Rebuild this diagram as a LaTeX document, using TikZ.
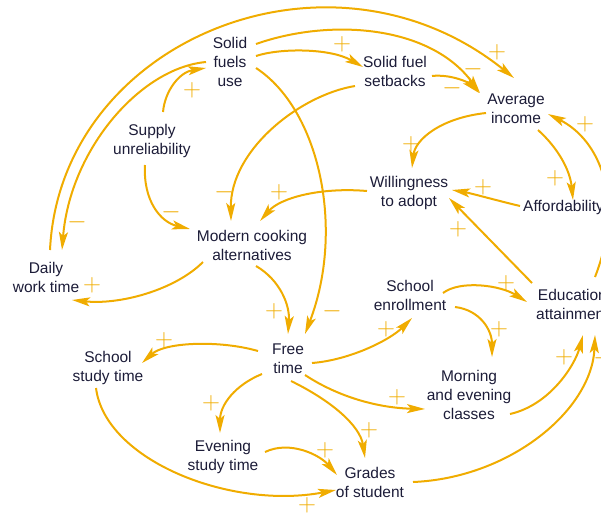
\documentclass[tikz,border=0pt]{standalone}
\usepackage{fontspec}
\setmainfont{Liberation Sans}
\usetikzlibrary{arrows.meta}
\definecolor{cld}{RGB}{240,172,0}
\definecolor{txt}{RGB}{28,28,56}
\tikzset{
  var/.style={align=center, inner sep=0pt, text=txt, yshift=1.5pt, font=\fontsize{15.5}{19}\selectfont},
  link/.style={draw=cld, line width=2pt, -{Stealth[length=18pt,width=9pt,inset=4pt]}},
  sign/.style={inner sep=0pt, text=cld, font=\fontsize{24}{24}\selectfont},
}
\begin{document}
\begin{tikzpicture}[x=1pt,y=-1pt]
\useasboundingbox (0,0) rectangle (601,514);
\clip (0,0) rectangle (601,514);
% variables
\node[var] (sfu) at (230,63.5) {Solid\\fuels\\use};
\node[var] (sfs) at (395,72.5) {Solid fuel\\setbacks};
\node[var] (avg) at (516,110) {Average\\income};
\node[var] (will) at (409,194) {Willingness\\to adopt};
\node[var, anchor=west] (aff) at (523,209) {Affordability};
\node[var] (sup) at (152,142) {Supply\\unreliability};
\node[var] (mca) at (252,247) {Modern cooking\\alternatives};
\node[var] (dwt) at (46,279) {Daily\\work time};
\node[var] (ft) at (288,360) {Free\\time};
\node[var] (sst) at (108,369) {School\\study time};
\node[var] (est) at (223,458) {Evening\\study time};
\node[var] (gos) at (370,484) {Grades\\of student};
\node[var] (se) at (410,297) {School\\enrollment};
\node[var] (mec) at (469,396) {Morning\\and evening\\classes};
\node[var, anchor=west] (edu) at (536,306) {Education\\attainment};
% links
\draw[link] ([shift={(26,-6)}]sfu.center) .. controls (280,48) and (330,48) .. ([shift={(-32,-4)}]sfs.center);
\draw[link] ([shift={(26,-18)}]sfu.center) .. controls (330,18) and (430,25) .. ([shift={(-36,-15.5)}]avg.center);
\draw[link] ([shift={(4,-27.5)}]dwt.center) .. controls (60,40) and (330,-70) .. ([shift={(-2,-30.5)}]avg.center);
\draw[link] ([shift={(-24,0)}]sfu.center) .. controls (140,68) and (70,150) .. ([shift={(16,-27.5)}]dwt.center);
\draw[link] ([shift={(11,-28.5)}]sup.center) .. controls (165,90) and (180,72) .. ([shift={(-24,6)}]sfu.center);
\draw[link] ([shift={(-7,24.5)}]sup.center) .. controls (143,200) and (160,222) .. ([shift={(-62,-16.5)}]mca.center);
\draw[link] ([shift={(-40,15)}]sfs.center) .. controls (300,95) and (230,150) .. ([shift={(-21,-24.5)}]mca.center);
\draw[link] ([shift={(-42,-1.5)}]will.center) .. controls (320,187) and (280,198) .. ([shift={(8,-24.5)}]mca.center);
\draw[link] ([shift={(26,6)}]sfu.center) .. controls (320,110) and (345,230) .. ([shift={(17,-24.5)}]ft.center);
\draw[link] ([shift={(-49,16.5)}]mca.center) .. controls (175,290) and (120,305) .. ([shift={(26,22.5)}]dwt.center);
\draw[link] ([shift={(4,20.5)}]mca.center) .. controls (280,280) and (290,305) .. ([shift={(0,-24.5)}]ft.center);
\draw[link] ([shift={(-30,4.5)}]avg.center) .. controls (440,118) and (415,140) .. ([shift={(3,-24.5)}]will.center);
\draw[link] ([shift={(22,21.5)}]avg.center) .. controls (558,148) and (570,170) .. ([shift={(50,-7.5)}]aff.west);
\draw[link] ([shift={(-3,-1.5)}]aff.west) .. controls (495,200) and (470,193) .. ([shift={(43,-2.5)}]will.center);
\draw[link] ([shift={(-4,-21.5)}]edu.west) -- ([shift={(40,5.5)}]will.center);
\draw[link] ([shift={(59,-27.5)}]edu.west) .. controls (625,200) and (600,140) .. ([shift={(32,5.5)}]avg.center);
\draw[link] ([shift={(-30,-7.5)}]ft.center) .. controls (220,340) and (165,342) .. ([shift={(34,-4.5)}]sst.center);
\draw[link] ([shift={(-26,15.5)}]ft.center) .. controls (235,385) and (220,405) .. ([shift={(-3,-23.5)}]est.center);
\draw[link] ([shift={(24,4.5)}]ft.center) .. controls (350,360) and (390,340) .. ([shift={(2,22.5)}]se.center);
\draw[link] ([shift={(17,16.5)}]ft.center) .. controls (340,398) and (380,408) .. ([shift={(-44,14.5)}]mec.center);
\draw[link] ([shift={(3,22.5)}]ft.center) .. controls (330,400) and (360,425) .. ([shift={(-5,-24.5)}]gos.center);
\draw[link] ([shift={(33,-2.5)}]se.center) .. controls (460,280) and (500,285) .. ([shift={(-9,-2.5)}]edu.west);
\draw[link] ([shift={(45,11.5)}]se.center) .. controls (480,310) and (492,330) .. ([shift={(23,-37.5)}]mec.center);
\draw[link] ([shift={(41,19.5)}]mec.center) .. controls (550,405) and (575,365) .. ([shift={(47,30.5)}]edu.west);
\draw[link] ([shift={(43,-0.5)}]gos.center) .. controls (510,478) and (592,410) .. ([shift={(59,30.5)}]edu.west);
\draw[link] ([shift={(42,-4.5)}]est.center) .. controls (290,440) and (320,455) .. ([shift={(-33,-7.5)}]gos.center);
\draw[link] ([shift={(-12,20.5)}]sst.center) .. controls (105,460) and (230,510) .. ([shift={(-34,7.5)}]gos.center);
\draw[link] ([shift={(37,5)}]sfs.center) .. controls (450,74) and (468,82) .. ([shift={(-37,-15.5)}]avg.center);
% polarity signs
\node[sign] (p1) at (342,44) {$+$};
\node[sign] (p2) at (497,52) {$+$};
\node[sign] (p3) at (473,69) {$-$};
\node[sign] (p4) at (452,88) {$-$};
\node[sign] (p5) at (192,90) {$+$};
\node[sign] (p6) at (171,212) {$-$};
\node[sign] (p7) at (224,192) {$-$};
\node[sign] (p8) at (279,192) {$+$};
\node[sign] (p9) at (77,222) {$-$};
\node[sign] (p10) at (92,285) {$+$};
\node[sign] (p11) at (274,311) {$+$};
\node[sign] (p12) at (332,311) {$-$};
\node[sign] (p13) at (411,144) {$+$};
\node[sign] (p14) at (555,178) {$+$};
\node[sign] (p15) at (585,124) {$+$};
\node[sign] (p16) at (483,187) {$+$};
\node[sign] (p17) at (458,229) {$+$};
\node[sign] (p18) at (164,340) {$+$};
\node[sign] (p19) at (211,403) {$+$};
\node[sign] (p20) at (386,329) {$+$};
\node[sign] (p21) at (397,397) {$+$};
\node[sign] (p22) at (369,430) {$+$};
\node[sign] (p23) at (506,283) {$+$};
\node[sign] (p24) at (499,329) {$+$};
\node[sign] (p25) at (564,357) {$+$};
\node[sign] (p26) at (603,358) {$-$};
\node[sign] (p27) at (325,450) {$+$};
\node[sign] (p28) at (307,505) {$+$};
\end{tikzpicture}
\end{document}
